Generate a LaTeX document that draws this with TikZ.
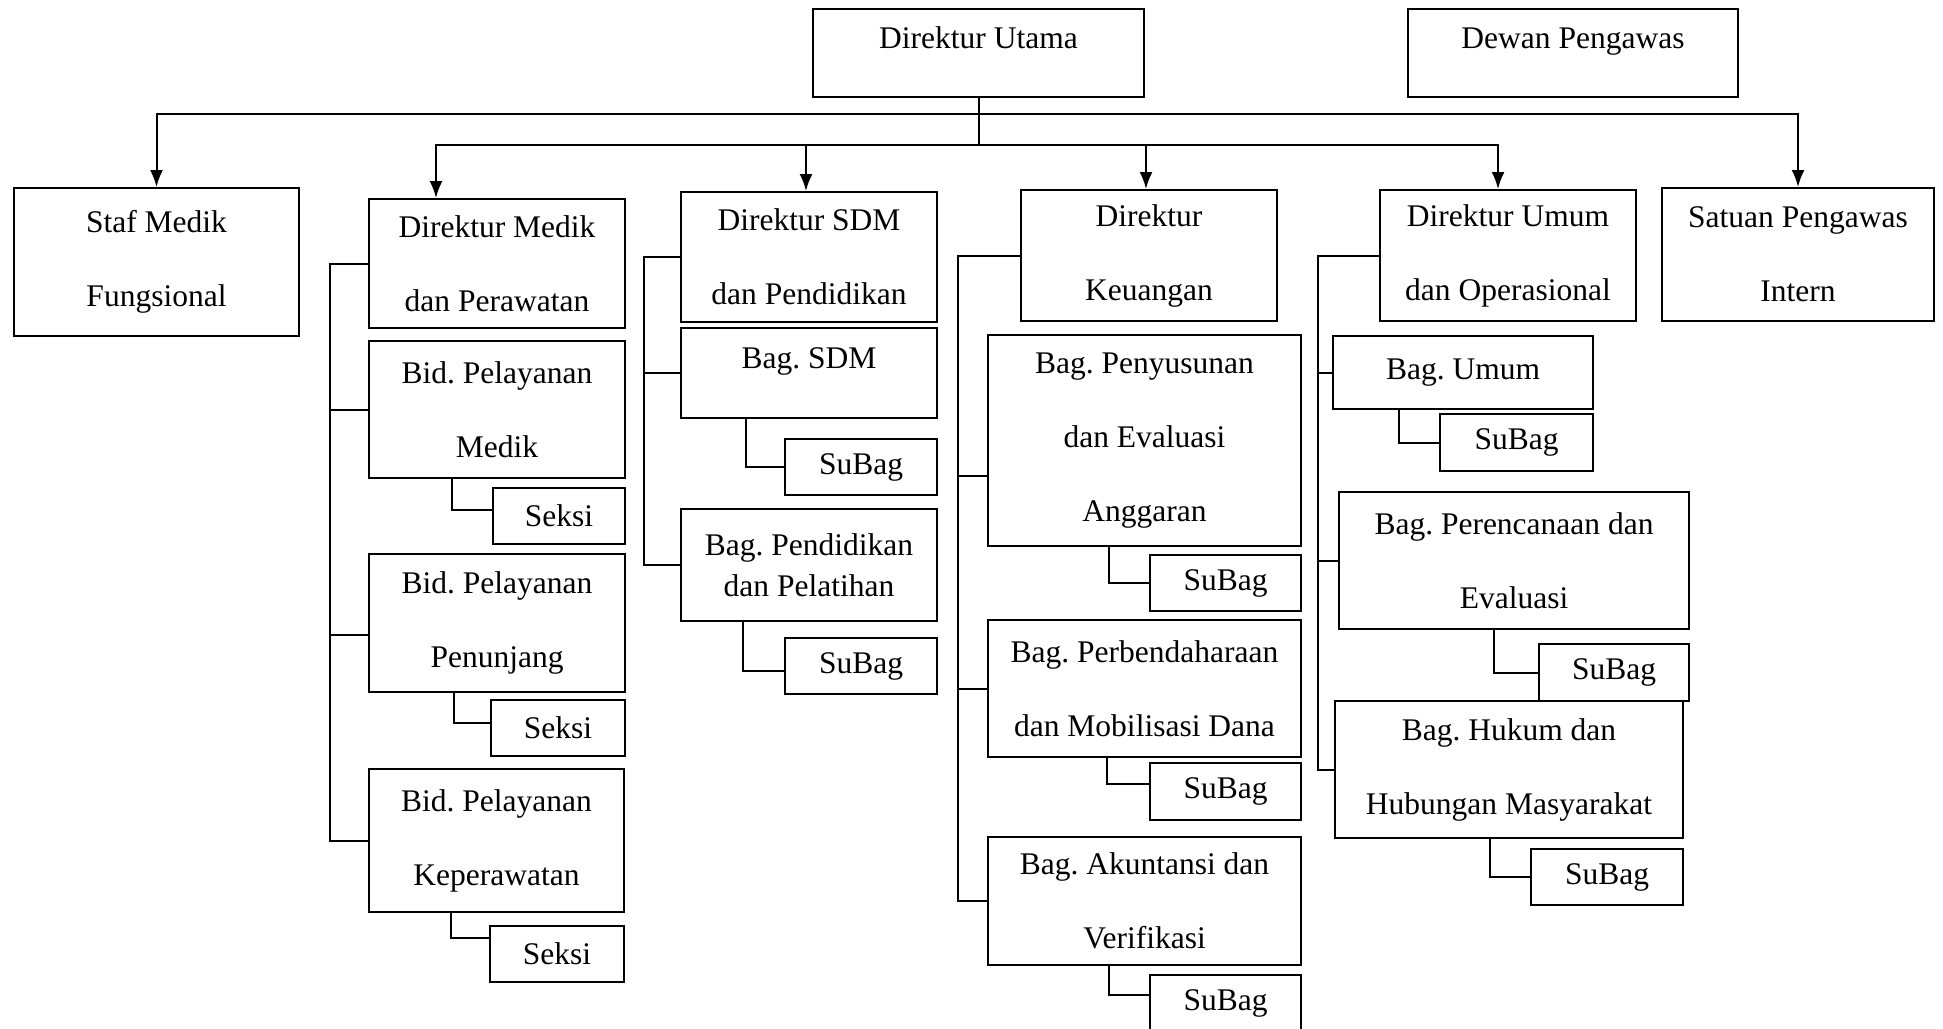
\documentclass[tikz,border=0pt]{standalone}
\usepackage{fontspec}
\setmainfont{Liberation Serif}
\usetikzlibrary{arrows.meta}
\frenchspacing

\begin{document}
\begin{tikzpicture}[x=1pt,y=-1pt,line width=2pt,>={Latex[length=17pt,width=13pt]},
  kotak/.style={draw,align=center,inner sep=0pt,font=\fontsize{31.5}{74}\selectfont},
  atas/.style={text height=21pt,text depth=31pt}]
   \useasboundingbox (0,0) rectangle (1943,1028);
   \clip (0,0) rectangle (1943,1028);
   \coordinate (garisatas) at (0,114);
   \coordinate (garisbawah) at (0,145);

   \node[kotak,atas,minimum width=331pt,minimum height=88pt] (utama) at (978.5,53) {Direktur Utama};
   \node[kotak,atas,minimum width=330pt,minimum height=88pt] (dewan) at (1573,53) {Dewan Pengawas};
   \node[kotak,minimum width=285pt,minimum height=148pt] (staf) at (156.5,262) {Staf Medik\\Fungsional};
   \node[kotak,minimum width=256pt,minimum height=129pt] (dirmedik) at (497,263.5) {Direktur Medik\\dan Perawatan};
   \node[kotak,minimum width=256pt,minimum height=130pt] (dirsdm) at (809,257) {Direktur SDM\\dan Pendidikan};
   \node[kotak,minimum width=256pt,minimum height=131pt] (dirkeu) at (1149,255.5) {Direktur\\Keuangan};
   \node[kotak,minimum width=256pt,minimum height=131pt] (dirumum) at (1508,255.5) {Direktur Umum\\dan Operasional};
   \node[kotak,minimum width=272pt,minimum height=133pt] (spi) at (1798,254.5) {Satuan Pengawas\\Intern};

   \node[kotak,minimum width=256pt,minimum height=137pt] (bidmedik) at (497,409.5) {Bid. Pelayanan\\Medik};
   \node[kotak,minimum width=132pt,minimum height=56pt] (seksia) at (559,516) {Seksi};
   \node[kotak,minimum width=256pt,minimum height=138pt] (bidpenunjang) at (497,623) {Bid. Pelayanan\\Penunjang};
   \node[kotak,minimum width=134pt,minimum height=56pt] (seksib) at (558,728) {Seksi};
   \node[kotak,minimum width=255pt,minimum height=143pt] (bidkep) at (496.5,840.5) {Bid. Pelayanan\\Keperawatan};
   \node[kotak,minimum width=134pt,minimum height=56pt] (seksic) at (557,954) {Seksi};

   \node[kotak,atas,minimum width=256pt,minimum height=90pt] (bagsdm) at (809,373) {Bag. SDM};
   \node[kotak,minimum width=152pt,minimum height=56pt] (subaga) at (861,467) {SuBag};
   \node[kotak,font=\fontsize{31.5}{41}\selectfont,minimum width=256pt,minimum height=112pt] (bagdik) at (809,565) {Bag. Pendidikan\\dan Pelatihan};
   \node[kotak,minimum width=152pt,minimum height=56pt] (subagb) at (861,666) {SuBag};

   \node[kotak,minimum width=313pt,minimum height=211pt] (bagsusun) at (1144.5,440.5) {Bag. Penyusunan\\dan Evaluasi\\Anggaran};
   \node[kotak,minimum width=151pt,minimum height=56pt] (subagc) at (1225.5,583) {SuBag};
   \node[kotak,minimum width=313pt,minimum height=137pt] (bagbendahara) at (1144.5,688.5) {Bag. Perbendaharaan\\dan Mobilisasi Dana};
   \node[kotak,minimum width=151pt,minimum height=57pt] (subagd) at (1225.5,791.5) {SuBag};
   \node[kotak,minimum width=313pt,minimum height=128pt] (bagakun) at (1144.5,901) {Bag. Akuntansi dan\\Verifikasi};
   \node[kotak,minimum width=151pt,minimum height=56pt] (subage) at (1225.5,1003) {SuBag};

   \node[kotak,minimum width=260pt,minimum height=73pt] (bagumum) at (1463,372.5) {Bag. Umum};
   \node[kotak,minimum width=153pt,minimum height=57pt] (subagf) at (1516.5,442.5) {SuBag};
   \node[kotak,minimum width=350pt,minimum height=137pt] (bagrencana) at (1514,560.5) {Bag. Perencanaan dan\\Evaluasi};
   \node[kotak,minimum width=150pt,minimum height=57pt] (subagg) at (1614,672.5) {SuBag};
   \node[kotak,minimum width=348pt,minimum height=137pt] (baghukum) at (1509,769.5) {Bag. Hukum dan\\Hubungan Masyarakat};
   \node[kotak,minimum width=152pt,minimum height=56pt] (subagh) at (1607,877) {SuBag};

   \draw (utama.south) -- (utama.south |- garisbawah);
   \draw[->] (utama.south |- garisatas) -| (staf.north);
   \draw[->] (utama.south |- garisatas) -| (spi.north);
   \draw[->] (utama.south |- garisbawah) -| ([xshift=-61pt]dirmedik.north);
   \draw[->] (utama.south |- garisbawah) -| ([xshift=-3pt]dirsdm.north);
   \draw[->] (utama.south |- garisbawah) -| ([xshift=-3pt]dirkeu.north);
   \draw[->] (utama.south |- garisbawah) -| ([xshift=-10pt]dirumum.north);

   \draw (dirmedik.west) -- ++(-38,0) |- (bidkep.west);
   \draw (bidmedik.west) -- ++(-38,0);
   \draw ([yshift=-12pt]bidpenunjang.west) -- ++(-38,0);
   \draw (bidmedik.south west) ++(84,0) |- ([yshift=6pt]seksia.west);
   \draw (bidpenunjang.south west) ++(86,0) |- ([yshift=5pt]seksib.west);
   \draw (bidkep.south west) ++(83,0) |- ([yshift=16pt]seksic.west);

   \draw (dirsdm.west) -- ++(-36,0) |- (bagdik.west);
   \draw (bagsdm.west) -- ++(-36,0);
   \draw (bagsdm.south west) ++(66,0) |- (subaga.west);
   \draw (bagdik.south west) ++(63,0) |- ([yshift=-5pt]subagb.west);

   \draw (dirkeu.west) -- ++(-62,0) |- (bagakun.west);
   \draw ([yshift=-35pt]bagsusun.west) -- ++(-29,0);
   \draw (bagbendahara.west) -- ++(-29,0);
   \draw (bagsusun.south west) ++(122,0) |- (subagc.west);
   \draw (bagbendahara.south west) ++(120,0) |- ([yshift=8pt]subagd.west);
   \draw (bagakun.south west) ++(122,0) |- ([yshift=8pt]subage.west);

   \draw (dirumum.west) -- ++(-61,0) |- (baghukum.west);
   \draw (bagumum.west) -- ++(-14,0);
   \draw (bagrencana.west) -- ++(-20,0);
   \draw (bagumum.south west) ++(67,0) |- (subagf.west);
   \draw (bagrencana.south west) ++(156,0) |- (subagg.west);
   \draw (baghukum.south west) ++(156,0) |- (subagh.west);
\end{tikzpicture}
\end{document}
